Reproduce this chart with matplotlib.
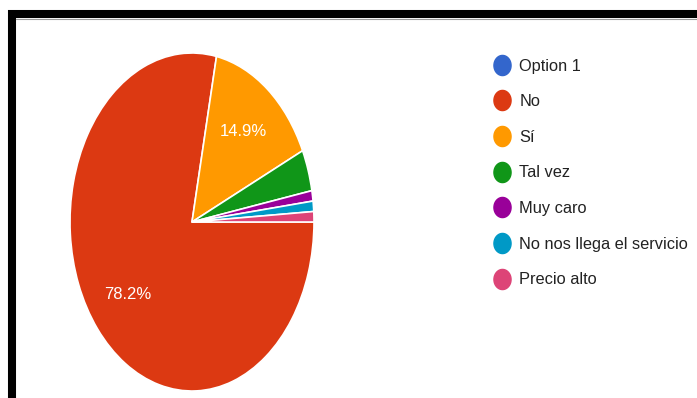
import matplotlib
matplotlib.use("Agg")
import matplotlib.pyplot as plt
from matplotlib.lines import Line2D
from matplotlib.patches import Rectangle
from matplotlib.path import Path
import numpy as np

plt.rcParams['font.family'] = ['Liberation Sans', 'DejaVu Sans']

# survey answers (counts)
labels = ["Option 1", "No", "Sí", "Tal vez", "Muy caro",
          "No nos llega el servicio", "Precio alto"]
counts = [0, 79, 15, 4, 1, 1, 1]
colors = ["#3366cc", "#dc3912", "#ff9900", "#109618", "#990099",
          "#0099c6", "#dd4477"]

W, H = 697, 398
fig = plt.figure(figsize=(W / 100, H / 100), dpi=100)
fig.patch.set_facecolor("white")

# pie is drawn slightly taller than wide
ax = fig.add_axes([70 / W, (H - 391) / H, 244 / W, 338 / H])
wedges, texts, autotexts = ax.pie(
    counts, colors=colors, startangle=0, counterclock=False, radius=1,
    autopct=lambda p: f"{p:.1f}%" if p > 5 else "",
    pctdistance=0.68,
    wedgeprops=dict(edgecolor="white", linewidth=1.2),
    textprops=dict(color="white", fontsize=12))
ax.set_aspect("auto")
ax.set_xlim(-1, 1)
ax.set_ylim(-1, 1)
ax.axis("off")

# oval legend markers
t = np.linspace(0, 2 * np.pi, 60)
oval = Path(np.column_stack([0.85 * np.cos(t), np.sin(t)]), closed=True)
handles = [Line2D([], [], linestyle="none", marker=oval, markersize=14.5,
                  markerfacecolor=c, markeredgecolor=c) for c in colors]
fig.legend(handles, labels, loc="upper left",
           bbox_to_anchor=(494 / W, 1 - 58.5 / H), frameon=False,
           fontsize=11.8, labelspacing=1.26, handlelength=1.0,
           handletextpad=0.55, borderpad=0, borderaxespad=0,
           labelcolor="#222222")

# frame around the chart (top and left edges visible)
fig.add_artist(Rectangle((12 / W, -0.2), 1.2, 1.2 - 14 / H,
                         transform=fig.transFigure, fill=False,
                         edgecolor="black", linewidth=5.8))
fig.add_artist(Line2D([16 / W, 1], [1 - 18.6 / H, 1 - 18.6 / H],
                      transform=fig.transFigure, color="#9a9a9a",
                      linewidth=0.8))

fig.savefig("out.png", dpi=100)
